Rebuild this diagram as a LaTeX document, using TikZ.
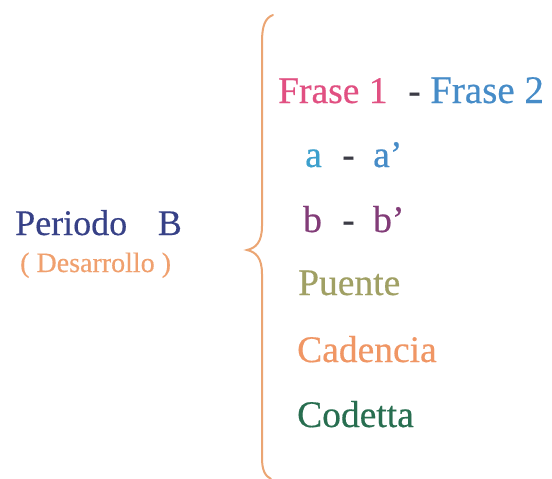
\documentclass[tikz,border=0pt]{standalone}
\usepackage{fontspec}
\setmainfont[FakeBold=0.4]{Liberation Serif}
\definecolor{periodoc}{RGB}{55,65,135}
\definecolor{desarc}{RGB}{240,160,110}
\definecolor{frase1c}{RGB}{225,80,130}
\definecolor{frase2c}{RGB}{70,140,200}
\definecolor{dashc}{RGB}{60,60,70}
\definecolor{acol}{RGB}{60,160,205}
\definecolor{aprimec}{RGB}{70,140,200}
\definecolor{bcol}{RGB}{130,60,120}
\definecolor{puentec}{RGB}{160,160,100}
\definecolor{cadenc}{RGB}{240,150,100}
\definecolor{codettac}{RGB}{40,110,80}
\definecolor{bracec}{RGB}{235,165,115}
\begin{document}
\begin{tikzpicture}[x=1pt,y=-1pt,
  lbl/.style={inner sep=0pt,anchor=base west,font=\fontsize{37.5}{40}\selectfont},
  big/.style={inner sep=0pt,anchor=base west,font=\fontsize{36}{40}\selectfont},
  small/.style={inner sep=0pt,anchor=base west,font=\fontsize{28}{30}\selectfont}]
\useasboundingbox[fill=white] (0,0) rectangle (552,479);
\node[big,text=periodoc] (periodo) at (15,235) {Periodo\hspace{0.85em}B};
\node[small,text=desarc] (desarrollo) at (20,272) {( Desarrollo )};
\draw[bracec,line width=2pt,line cap=round]
  (273,15) .. controls (265,18) and (262,26) .. (262,42) -- (262,226)
  .. controls (262,242) and (256,248) .. (247,250)
  .. controls (256,252) and (262,258) .. (262,274) -- (262,458)
  .. controls (262,470) and (265,476) .. (271,479);
\node[lbl,text=frase1c] (f1) at (278,103) {Frase 1};
\node[lbl,text=dashc] (fd) at (408,103) {-};
\node[lbl,text=frase2c,font=\fontsize{39}{40}\selectfont] (f2) at (430,103) {Frase 2};
\node[lbl,text=acol] (a) at (305,167) {a};
\node[lbl,text=dashc] (ad) at (342,167) {-};
\node[lbl,text=aprimec] (ap) at (373,167) {a’};
\node[lbl,text=bcol] (b) at (303,232) {b};
\node[lbl,text=dashc] (bd) at (342,232) {-};
\node[lbl,text=bcol] (bp) at (373,232) {b’};
\node[lbl,text=puentec] (puente) at (298,295) {Puente};
\node[lbl,text=cadenc] (cadencia) at (297,362) {Cadencia};
\node[lbl,text=codettac] (codetta) at (297,427) {Codetta};
\end{tikzpicture}
\end{document}
